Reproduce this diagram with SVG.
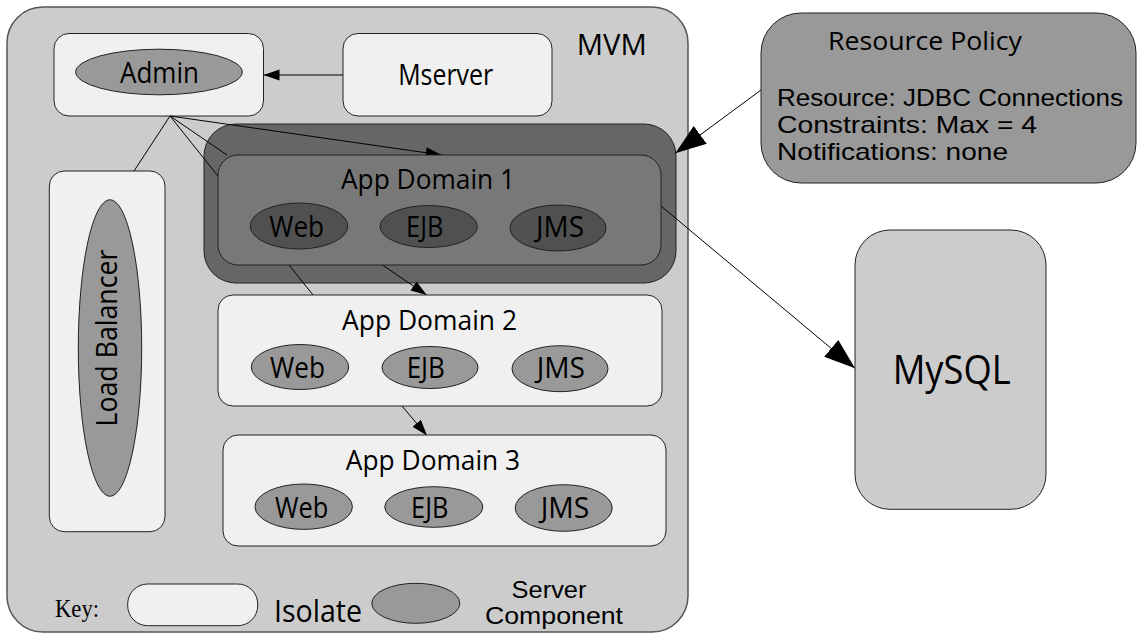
<svg xmlns="http://www.w3.org/2000/svg" width="1137" height="634" viewBox="0 0 1137 634">
<defs>
<style>
.t{font-family:"Open Sans","Noto Sans","DejaVu Sans",sans-serif;fill:#000;}
.ls{font-family:"Liberation Sans",Arial,sans-serif;fill:#000;}
.iso{fill:#f0f0f0;stroke:#222;stroke-width:1;}
.comp{fill:#999999;stroke:#222;stroke-width:1;}
.dcomp{fill:#505050;stroke:#222;stroke-width:1;}
.ln{stroke:#000;stroke-width:1;fill:none;}
</style>
<marker id="ah" markerUnits="userSpaceOnUse" markerWidth="17" markerHeight="12" refX="16" refY="5.5" orient="auto">
<path d="M0,0 L16,5.5 L0,11 z" fill="#000"/>
</marker>
<marker id="ahL" markerUnits="userSpaceOnUse" markerWidth="32" markerHeight="23" refX="31" refY="11" orient="auto">
<path d="M0,0 L31,11 L0,22 z" fill="#000"/>
</marker>
</defs>

<g id="mvm">
<rect x="7" y="7" width="681" height="625" rx="36" ry="36" fill="#cccccc" stroke="#555" stroke-width="1.5"/>
<text class="t" x="576.7" y="55" font-size="29" textLength="70" lengthAdjust="spacingAndGlyphs">MVM</text>
</g>

<g id="admin">
<rect class="iso" x="54" y="33.5" width="209.5" height="82.5" rx="15" ry="15"/>
<ellipse class="comp" cx="159" cy="72" rx="83.3" ry="22.8"/>
<text class="t" x="159.5" y="83.3" font-size="29" text-anchor="middle" textLength="79" lengthAdjust="spacingAndGlyphs">Admin</text>
</g>

<g id="mserver">
<rect class="iso" x="343" y="33.5" width="209" height="82.5" rx="15" ry="15"/>
<text class="t" x="445.7" y="85" font-size="29" text-anchor="middle" textLength="95" lengthAdjust="spacingAndGlyphs">Mserver</text>
</g>

<g id="load-balancer">
<rect class="iso" x="49.3" y="171" width="115.7" height="360.7" rx="15" ry="15"/>
<ellipse class="comp" cx="110" cy="348" rx="31.7" ry="148.3"/>
<text class="t" transform="translate(117,338) rotate(-90)" x="0" y="0" font-size="29" text-anchor="middle" textLength="177" lengthAdjust="spacingAndGlyphs">Load Balancer</text>
</g>

<g id="ad1-policy">
<rect x="204" y="124" width="472" height="159" rx="32" ry="32" fill="#666666" stroke="#222" stroke-width="1"/>
</g>

<g id="connectors">
<line class="ln" x1="343" y1="75" x2="263.5" y2="75" marker-end="url(#ah)"/>
<line class="ln" x1="170" y1="116" x2="134" y2="171"/>
<line class="ln" x1="170" y1="116" x2="227" y2="155"/>
<line class="ln" x1="170" y1="116" x2="313" y2="295"/>
<line class="ln" x1="170" y1="116" x2="441.7" y2="155" marker-end="url(#ah)"/>
<line class="ln" x1="381.7" y1="264.5" x2="426.7" y2="295" marker-end="url(#ah)"/>
<line class="ln" x1="402" y1="406" x2="427" y2="435.5" marker-end="url(#ah)"/>
<line class="ln" x1="661" y1="206" x2="855" y2="368.3" marker-end="url(#ahL)"/>
<line class="ln" x1="761" y1="90" x2="675.3" y2="153.3" marker-end="url(#ahL)"/>
</g>

<g id="app-domain-1">
<rect x="218" y="155" width="443" height="110" rx="20" ry="20" fill="#787878" stroke="#222" stroke-width="1"/>
<text class="t" x="428" y="189" font-size="28" text-anchor="middle" textLength="174" lengthAdjust="spacingAndGlyphs">App Domain 1</text>
<ellipse class="dcomp" cx="299" cy="226" rx="48.8" ry="23"/>
<ellipse class="dcomp" cx="428.7" cy="226.5" rx="48.7" ry="21"/>
<ellipse class="dcomp" cx="558" cy="228" rx="48" ry="23"/>
<text class="t" x="296.7" y="237" font-size="29" text-anchor="middle" textLength="54.7" lengthAdjust="spacingAndGlyphs">Web</text>
<text class="t" x="424.7" y="237" font-size="29" text-anchor="middle" textLength="37.3" lengthAdjust="spacingAndGlyphs">EJB</text>
<text class="t" x="560" y="237" font-size="29" text-anchor="middle" textLength="48" lengthAdjust="spacingAndGlyphs">JMS</text>
</g>

<g id="app-domain-2">
<rect class="iso" x="218" y="295" width="444" height="111" rx="15" ry="15"/>
<text class="t" x="429.5" y="330" font-size="28" text-anchor="middle" textLength="175" lengthAdjust="spacingAndGlyphs">App Domain 2</text>
<ellipse class="comp" cx="300" cy="367" rx="48.7" ry="22.5"/>
<ellipse class="comp" cx="430" cy="367.5" rx="48" ry="21"/>
<ellipse class="comp" cx="560" cy="368.7" rx="48" ry="23"/>
<text class="t" x="297.5" y="377.5" font-size="29" text-anchor="middle" textLength="55" lengthAdjust="spacingAndGlyphs">Web</text>
<text class="t" x="425.8" y="377.5" font-size="29" text-anchor="middle" textLength="38.3" lengthAdjust="spacingAndGlyphs">EJB</text>
<text class="t" x="560.8" y="377.5" font-size="29" text-anchor="middle" textLength="48.3" lengthAdjust="spacingAndGlyphs">JMS</text>
</g>

<g id="app-domain-3">
<rect class="iso" x="223" y="435" width="443" height="111" rx="15" ry="15"/>
<text class="t" x="433" y="469.5" font-size="28" text-anchor="middle" textLength="174.3" lengthAdjust="spacingAndGlyphs">App Domain 3</text>
<ellipse class="comp" cx="303.7" cy="506.7" rx="48.7" ry="22.7"/>
<ellipse class="comp" cx="433.8" cy="507" rx="49" ry="20.3"/>
<ellipse class="comp" cx="563.7" cy="508" rx="48.5" ry="23.3"/>
<text class="t" x="301.7" y="517.5" font-size="29" text-anchor="middle" textLength="53.3" lengthAdjust="spacingAndGlyphs">Web</text>
<text class="t" x="429.7" y="517.5" font-size="29" text-anchor="middle" textLength="37.3" lengthAdjust="spacingAndGlyphs">EJB</text>
<text class="t" x="565" y="517.5" font-size="29" text-anchor="middle" textLength="48.6" lengthAdjust="spacingAndGlyphs">JMS</text>
</g>

<g id="key">
<text x="55" y="617" font-family="'Liberation Serif','Times New Roman',serif" font-size="25" fill="#000" textLength="44" lengthAdjust="spacingAndGlyphs">Key:</text>
<rect class="iso" x="127.7" y="584" width="130" height="41.7" rx="20" ry="20"/>
<text class="t" x="274" y="622" font-size="31" textLength="88" lengthAdjust="spacingAndGlyphs">Isolate</text>
<ellipse class="comp" cx="415.8" cy="603.3" rx="44" ry="20"/>
<text class="ls" x="549" y="598" font-size="24" text-anchor="middle" textLength="75" lengthAdjust="spacingAndGlyphs">Server</text>
<text class="ls" x="554" y="623.5" font-size="24" text-anchor="middle" textLength="138" lengthAdjust="spacingAndGlyphs">Component</text>
</g>

<g id="resource-policy">
<rect x="761" y="13" width="375" height="170" rx="40" ry="40" fill="#999999" stroke="#222" stroke-width="1"/>
<text class="t" x="828" y="50" font-size="25" textLength="194" lengthAdjust="spacingAndGlyphs">Resource Policy</text>
<text class="ls" x="777" y="106" font-size="24" textLength="346" lengthAdjust="spacingAndGlyphs">Resource: JDBC Connections</text>
<text class="ls" x="777" y="133" font-size="24" textLength="260" lengthAdjust="spacingAndGlyphs">Constraints: Max = 4</text>
<text class="ls" x="777" y="159.5" font-size="24" textLength="231" lengthAdjust="spacingAndGlyphs">Notifications: none</text>
</g>

<g id="mysql">
<rect x="855" y="230" width="191" height="279.3" rx="35" ry="35" fill="#cccccc" stroke="#222" stroke-width="1"/>
<text class="t" x="951.7" y="384" font-size="40" text-anchor="middle" textLength="118" lengthAdjust="spacingAndGlyphs">MySQL</text>
</g>
</svg>
